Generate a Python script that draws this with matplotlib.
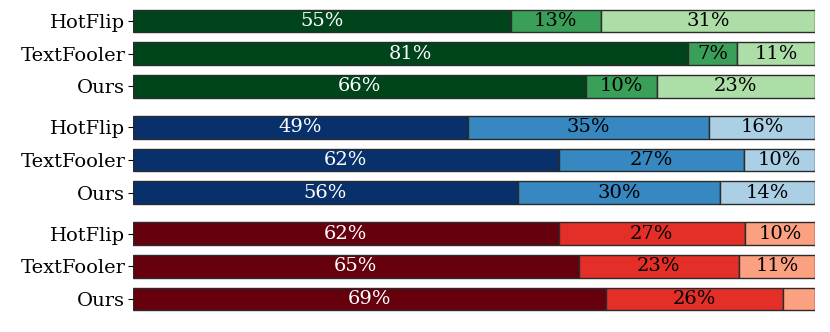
import matplotlib
matplotlib.use("Agg")
import matplotlib.pyplot as plt
import numpy as np

plt.rcParams['font.family'] = ['DejaVu Serif']

methods = ["HotFlip", "TextFooler", "Ours"]
# three groups (top to bottom), each with three segment values (%) per method
green_vals = [[55.4, 13.2, 31.4], [81.4, 7.2, 11.4], [66.4, 10.4, 23.2]]
blue_vals = [[49.1, 35.4, 15.5], [62.4, 27.2, 10.4], [56.4, 29.7, 13.9]]
red_vals = [[62.4, 27.3, 10.3], [65.4, 23.4, 11.2], [69.4, 25.9, 4.7]]

groups = [green_vals, blue_vals, red_vals]
palettes = [
    ["#00441b", "#3a9f58", "#addea7"],
    ["#08306b", "#3787c0", "#abd0e6"],
    ["#67000d", "#e32f27", "#fca082"],
]
text_colors = ["white", "black", "black"]

fig = plt.figure(figsize=(8.3, 3.32), dpi=100)
ax = fig.add_axes([0.160, 0.055, 0.822, 0.926])

gap = 1.25
yticks, ylabels = [], []
y = 0.0
for gi, (vals, pal) in enumerate(zip(groups, palettes)):
    for mi, m in enumerate(methods):
        row = vals[mi]
        left = 0.0
        for si, v in enumerate(row):
            ax.barh(y, v, left=left, height=0.70, color=pal[si],
                    edgecolor="#2b2b2b", linewidth=1.0)
            if v >= 6:
                ax.text(left + v / 2, y, f"{round(v):d}%", ha="center",
                        va="center", color=text_colors[si], fontsize=14)
            left += v
        yticks.append(y)
        ylabels.append(m)
        y += 1.0
    y += gap - 1.0

ax.set_yticks(yticks)
ax.set_yticklabels(ylabels, fontsize=14)
ax.set_ylim(yticks[-1] + 0.45, yticks[0] - 0.45)
ax.set_xlim(0, 100)
ax.set_xticks([])
for s in ax.spines.values():
    s.set_visible(False)
ax.tick_params(axis="y", length=3.5, width=0.8, pad=2)

fig.savefig("out.png", dpi=100)
